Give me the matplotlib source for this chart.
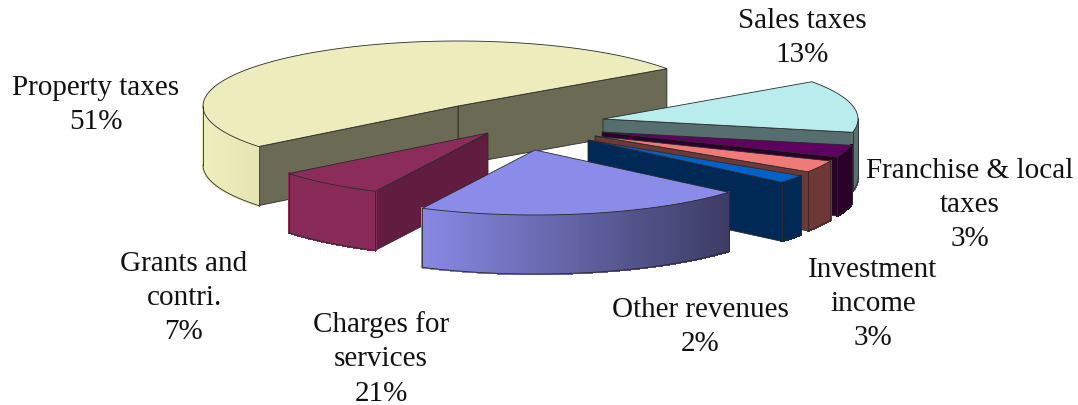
import numpy as np
import matplotlib
matplotlib.use("Agg")
import matplotlib.pyplot as plt
from matplotlib.collections import PolyCollection
from matplotlib.colors import to_rgb

# data, counter clockwise from the first slice
categories = ["Property taxes", "Grants and\ncontri.", "Charges for\nservices", "Other revenues",
              "Investment\nincome", "Franchise & local\ntaxes", "Sales taxes"]
values = [51, 7, 21, 2, 3, 3, 13]

# colours: top face, cut wall, outer wall left and right
top_colors = ["#ECECBC", "#8B2C5B", "#8B8BEA", "#0062C8", "#F07A78", "#600060", "#B9ECEC"]
cut_colors = ["#6A6A55", "#611D40", "#3C3C66", "#002A55", "#6E3836", "#2B002B", "#566E6E"]
wall_left = ["#EEEEBE", "#882B59", "#8888E4", "#002A55", "#6E3836", "#2B002B", "#5A7272"]
wall_right = ["#E6E6B2", "#882B59", "#3C3C64", "#002A55", "#6E3836", "#2B002B", "#5A7272"]

# layout in pixels
apex = [(458, 107), (488, 134), (535, 151), (588, 141), (595, 137), (602, 133), (603, 120)]
label_pos = [(96, 105), (184, 298), (381, 359), (700, 327), (873, 304), (970, 205), (802, 38)]
draw_order = [0, 6, 5, 4, 3, 1, 2]
RX = 255
RY = 65
DEPTH = 59
START = 35
EDGE = "#2A2A2A"
LW = 0.6

fig = plt.figure(figsize=(10.78, 4.06), dpi=100)
ax = fig.add_axes([0, 0, 1, 1])
ax.set_xlim(0, 1078)
ax.set_ylim(406, 0)
ax.axis("off")

bounds = START + np.concatenate([[0], np.cumsum(values)]) * 3.6


def rim(i, th):
    r = np.radians(th)
    return apex[i][0] + RX * np.cos(r), apex[i][1] - RY * np.sin(r)


def cut_wall(i, th):
    x, y = rim(i, th)
    ax0, ay0 = apex[i]
    ax.fill([ax0, x, x, ax0], [ay0, y, y + DEPTH, ay0 + DEPTH], fc=cut_colors[i], ec=EDGE, lw=LW)


def outer_wall(i, t0, t1):
    # only the part of the rim that faces the viewer
    th = np.linspace(t0, t1, 120)
    th = th[np.sin(np.radians(th)) <= 0]
    if len(th) < 2:
        return
    x, y = rim(i, th)
    quads = []
    colors = []
    c0 = np.array(to_rgb(wall_left[i]))
    c1 = np.array(to_rgb(wall_right[i]))
    for k in range(len(th) - 1):
        quads.append([(x[k], y[k]), (x[k + 1], y[k + 1]), (x[k + 1], y[k + 1] + DEPTH), (x[k], y[k] + DEPTH)])
        f = (x[k] - x.min()) / (x.max() - x.min())
        colors.append(c0 + (c1 - c0) * f)
    ax.add_collection(PolyCollection(quads, facecolors=colors, edgecolors=colors, linewidths=1.0,
                                     antialiaseds=False))
    ax.plot(x, y + DEPTH, color=EDGE, lw=LW)
    ax.plot([x[0], x[0]], [y[0], y[0] + DEPTH], color=EDGE, lw=LW)
    ax.plot([x[-1], x[-1]], [y[-1], y[-1] + DEPTH], color=EDGE, lw=LW)


for i in draw_order:
    t0, t1 = bounds[i], bounds[i + 1]
    if np.cos(np.radians(t0)) > 0:
        cut_wall(i, t0)
    if np.cos(np.radians(t1)) < 0:
        cut_wall(i, t1)
    outer_wall(i, t0, t1)
    th = np.linspace(t0, t1, 120)
    x, y = rim(i, th)
    ax.fill(np.r_[apex[i][0], x], np.r_[apex[i][1], y], fc=top_colors[i], ec=EDGE, lw=LW)

for i in range(len(values)):
    ax.text(label_pos[i][0], label_pos[i][1], categories[i] + "\n" + str(values[i]) + "%",
            family="Liberation Serif", fontsize=21, color="#111111",
            ha="center", va="center", linespacing=1.41)

fig.savefig("out.png", dpi=100)
